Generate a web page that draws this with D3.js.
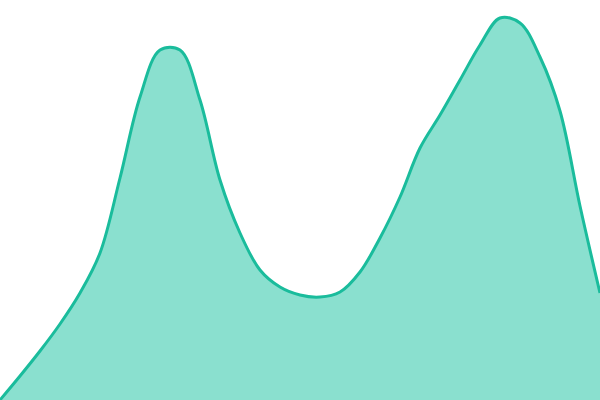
<!DOCTYPE html>
<html>
<head>
<meta charset="utf-8">
<script src="https://d3js.org/d3.v7.min.js"></script>
<style>
  body { margin: 0; background: white; }
</style>
</head>
<body>
<div id="chart"></div>
<script>
// data: one sample every step along x, value = height of the curve
var steps = [0, 1, 2, 3, 4, 5, 6, 7, 8, 9, 10, 11, 12, 13, 14, 15, 16, 17, 18, 19, 20,
             21, 22, 23, 24, 25, 26, 27, 28, 29, 30];
var values = [0, 24, 49, 76, 107, 147, 222, 303, 350, 350, 300, 220, 167, 130, 113, 105,
              103, 108, 128, 162, 203, 252, 285, 320, 355, 382, 377, 343, 289, 194, 107];

var width = 600, height = 400;

var svg = d3.select("#chart")
    .append("svg")
        .attr("width", width)
        .attr("height", height);

var x = d3.scaleLinear()
    .domain([0, 30])
    .range([0, width]);

var y = d3.scaleLinear()
    .domain([0, 400])
    .range([height, 0]);

var data = steps.map(function(s, i){ return {s: s, v: values[i]}; });

var area = d3.area()
    .x(function(d){ return x(d.s); })
    .y0(y(0))
    .y1(function(d){ return y(d.v); })
    .curve(d3.curveCatmullRom.alpha(0.5));

var line = d3.line()
    .x(function(d){ return x(d.s); })
    .y(function(d){ return y(d.v); })
    .curve(d3.curveCatmullRom.alpha(0.5));

// fylt flate
svg.append("path")
    .datum(data)
    .attr("d", area)
    .style("fill", "#8ae0cf");

// kantlinje oppe
svg.append("path")
    .datum(data)
    .attr("d", line)
    .style("fill", "none")
    .style("stroke", "#1abc9c")
    .style("stroke-width", 3);
</script>
</body>
</html>
